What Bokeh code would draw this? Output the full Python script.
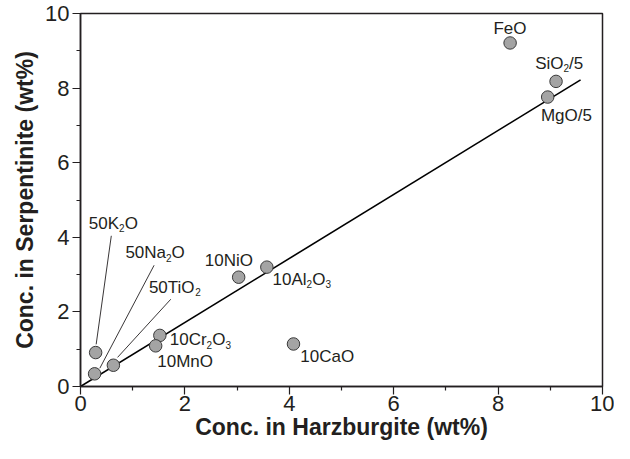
import re
from bokeh.plotting import figure
from bokeh.models import Range1d, FixedTicker, ColumnDataSource
from bokeh.core.properties import value
from bokeh.embed import file_html
from bokeh.resources import INLINE

# ---- data ----
oxides = ["50K_2O", "50Na_2O", "50TiO_2", "10Cr_2O_3", "10MnO", "10NiO",
          "10Al_2O_3", "10CaO", "FeO", "SiO_2/5", "MgO/5"]
harzburgite = [0.29, 0.27, 0.63, 1.52, 1.44, 3.03, 3.57, 4.08, 8.23, 9.11, 8.95]
serpentinite = [0.91, 0.34, 0.57, 1.37, 1.09, 2.93, 3.20, 1.14, 9.21, 8.18, 7.76]
label_x = [0.16, 0.86, 1.31, 1.71, 1.47, 2.38, 3.68, 4.21, 7.91, 8.71, 8.82]
label_y = [4.38, 3.59, 2.66, 1.26, 0.68, 3.37, 2.87, 0.81, 9.61, 8.66, 7.26]
leader_x0 = [0.59, 1.41, 1.73]
leader_y0 = [4.04, 3.25, 2.34]
leader_x1 = [0.30, 0.37, 0.71]
leader_y1 = [1.13, 0.49, 0.78]
fit_x = [0.0, 9.58]
fit_y = [0.0, 8.22]
x_ticks = [0, 2, 4, 6, 8, 10]
y_ticks = [0, 2, 4, 6, 8, 10]
minor_ticks = [1, 3, 5, 7, 9]

FONT = "Liberation Sans"
INK = "#231f20"
MAIN_PX = 17
SUB_PX = 10

# Arial / Liberation Sans advance widths (em)
W = {c: 0.556 for c in "0123456789"}
W.update({"K": .667, "O": .778, "N": .722, "a": .556, "T": .611, "i": .222,
          "C": .722, "r": .333, "M": .833, "n": .556, "A": .667, "l": .222,
          "F": .611, "e": .556, "S": .667, "/": .278, "g": .556})

main = dict(x=[], y=[], text=[], xo=[])
sub = dict(x=[], y=[], text=[], xo=[])
for lab, lx, ly in zip(oxides, label_x, label_y):
    off = 0.0
    for part in re.findall(r"_\d|[^_]+", lab):
        if part.startswith("_"):
            ch = part[1]
            sub["x"].append(lx); sub["y"].append(ly); sub["text"].append(ch); sub["xo"].append(off)
            off += W[ch] * SUB_PX
        else:
            main["x"].append(lx); main["y"].append(ly); main["text"].append(part); main["xo"].append(off)
            off += sum(W.get(c, 0.556) for c in part) * MAIN_PX

p = figure(width=614, height=443, x_range=Range1d(0, 10), y_range=Range1d(0, 10),
           output_backend="svg", toolbar_location=None,
           min_border_left=80, min_border_right=12, min_border_top=13, min_border_bottom=57)

p.xgrid.visible = False
p.ygrid.visible = False
p.outline_line_color = INK
p.outline_line_width = 1.5
p.outline_line_alpha = 1.0

p.line(fit_x, fit_y, line_color="black", line_width=1.6)
p.segment(leader_x0, leader_y0, leader_x1, leader_y1, line_color=INK, line_width=0.9)
p.scatter(harzburgite, serpentinite, size=12.5, fill_color="#a4a4a4",
          line_color="#3a3a3a", line_width=1)

p.text(x="x", y="y", text="text", x_offset="xo", source=ColumnDataSource(main),
       text_font=value(FONT), text_font_size=f"{MAIN_PX}px", text_color=INK,
       text_baseline="middle", text_align="left")
p.text(x="x", y="y", text="text", x_offset="xo", y_offset=5, source=ColumnDataSource(sub),
       text_font=value(FONT), text_font_size=f"{SUB_PX}px", text_color=INK,
       text_baseline="middle", text_align="left")

p.xaxis.ticker = FixedTicker(ticks=x_ticks, minor_ticks=minor_ticks)
p.yaxis.ticker = FixedTicker(ticks=y_ticks, minor_ticks=minor_ticks)
p.xaxis.axis_label = "Conc. in Harzburgite (wt%)"
p.yaxis.axis_label = "Conc. in Serpentinite (wt%)"
for ax in (p.xaxis, p.yaxis):
    ax.axis_line_color = INK
    ax.axis_line_width = 1.5
    ax.major_tick_line_color = INK
    ax.minor_tick_line_color = INK
    ax.major_tick_line_width = 1.2
    ax.minor_tick_line_width = 1.2
    ax.major_tick_in = 0
    ax.major_tick_out = 8
    ax.minor_tick_in = 0
    ax.minor_tick_out = 4
    ax.major_label_text_font = FONT
    ax.major_label_text_font_size = "22px"
    ax.major_label_text_color = INK
    ax.major_label_standoff = 1
    ax.axis_label_text_font = FONT
    ax.axis_label_text_font_size = "23px"
    ax.axis_label_text_font_style = "bold"
    ax.axis_label_text_color = INK
    ax.axis_label_standoff = 0
p.yaxis.major_label_standoff = 3
p.yaxis.axis_label_standoff = 4
p.yaxis.major_label_orientation = "horizontal"

open("out.html", "w").write(file_html(p, INLINE))
